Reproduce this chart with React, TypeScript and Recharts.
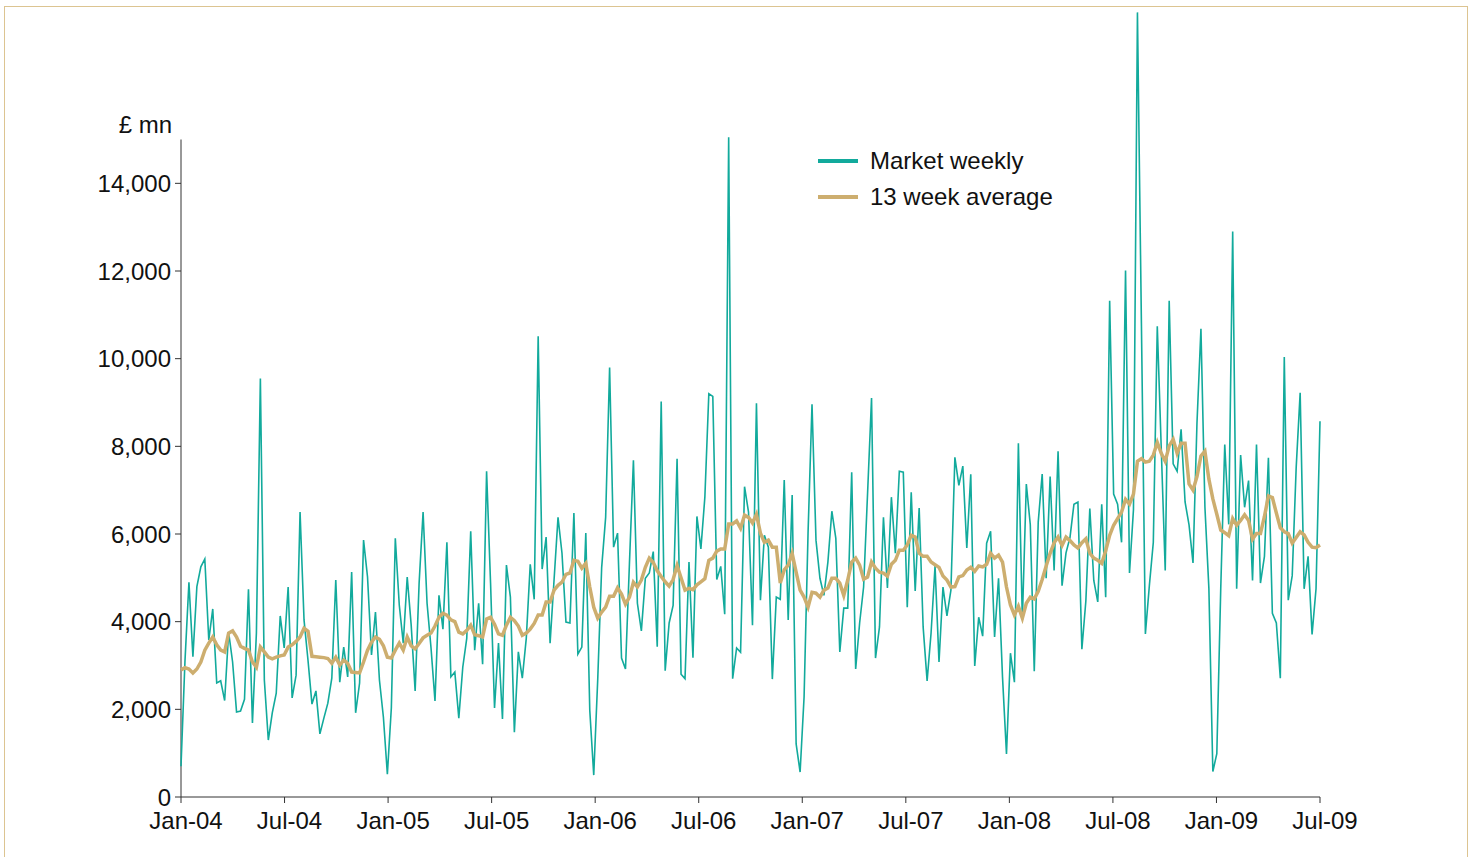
import { LineChart, Line, XAxis, YAxis, Legend, ReferenceLine } from "recharts";

// weekly market turnover, £ mn, Jan 2004 - Jul 2009
const weekly = [
  700, 3100, 4900, 3200, 4800, 5250, 5430, 3580, 4290, 2600, 2650, 2200, 3760, 3080, 1940, 1960, 2230, 4740, 1690, 3740, 9550, 2670, 1300, 1920, 2370,
  4130, 3400, 4790, 2260, 2780, 6500, 4040, 3120, 2120, 2420, 1440, 1800, 2140, 2710, 4950, 2620, 3420, 2740, 5130, 1920, 2600, 5860, 5020,
  3240, 4220, 2670, 1820, 520, 2030, 5900, 4380, 3510, 5020, 3920, 2420, 4880, 6500, 4420, 3400, 2190, 4600, 3830, 5810, 2740, 2850, 1800, 2960,
  3620, 6060, 3350, 4420, 3030, 7430, 4880, 2030, 3510, 1780, 5290, 4560, 1480, 3310, 2710, 3620, 5310, 4510, 10510, 5200, 5930, 3510, 4950, 6380,
  5560, 3990, 3970, 6480, 3260, 3420, 6020, 1980, 500, 2670, 5240, 6380, 9800, 5700, 6020, 3170, 2920, 5340, 7680, 4420, 3790, 4990, 5110,
  5600, 3430, 9020, 2880, 3970, 4370, 7715, 2800, 2700, 5360, 3180, 6400, 5660, 6840, 9200, 9140, 4960, 5260, 4170, 15050, 2700, 3400, 3300, 7080,
  6500, 3920, 8980, 4490, 5970, 5700, 2690, 4560, 4510, 7230, 4040, 6890, 1210, 570, 2280, 6020, 8960, 5860, 4990, 4600, 5360, 6520, 5900, 3310,
  4310, 4310, 7410, 2920, 3970, 4790, 6930, 9100, 3170, 3880, 6380, 4770, 6840, 5560, 7430, 7410, 4330, 6950, 4700, 6590, 3880, 2650, 3740, 5270,
  3080, 4790, 4130, 4720, 7750, 7110, 7550, 5680, 7360, 2990, 4100, 3670, 5790, 6060, 3650, 4990, 2740, 980, 3280, 2620, 8070, 4040, 7140,
  6210, 2870, 6270, 7370, 4990, 7310, 5170, 7890, 4820, 5570, 5920, 6680, 6730, 3370, 4470, 6580, 4940, 4450, 6680, 4560, 11320, 6910, 6680, 5810, 12010, 5110, 6560,
  17900, 10800, 3720, 4820, 5810, 10740, 7950, 5170, 11320, 7600, 7430, 8390, 6730, 6210, 5340, 8530, 10680, 6620, 4760, 580, 990,
  4790, 8040, 6220, 12900, 4750, 7800, 6610, 7220, 4940, 8040, 4880, 5490, 7740, 4190, 3970, 2710, 10040, 4490, 5050, 7520, 9220, 4750, 5490, 3710, 4750, 8570,
];

const average13 = [
  2900, 2950, 2920, 2830, 2920, 3080, 3350, 3510, 3650, 3470, 3350, 3310, 3740, 3790, 3650, 3440, 3390, 3350, 3080, 2960, 3420, 3310, 3190, 3150, 3190,
  3220, 3240, 3420, 3470, 3550, 3650, 3850, 3780, 3210, 3200, 3190, 3180, 3160, 3050, 3190, 3010, 3120, 3050, 2850, 2840, 2830, 3080, 3350,
  3530, 3650, 3600, 3450, 3190, 3170, 3350, 3510, 3350, 3650, 3450, 3380, 3500, 3630, 3690, 3740, 3900, 4100, 4190, 4150, 4040, 4000, 3760, 3720,
  3800, 3920, 3700, 3680, 3650, 4060, 4100, 3940, 3720, 3690, 3920, 4100, 4020, 3900, 3690, 3740, 3830, 3960, 4150, 4150, 4450, 4450, 4720, 4830,
  4900, 5080, 5110, 5400, 5380, 5220, 5330, 4790, 4330, 4080, 4220, 4330, 4580, 4580, 4770, 4630, 4400, 4560, 4900, 4790, 4950, 5240, 5450,
  5350, 5160, 5030, 4910, 4810, 4960, 5280, 5000, 4720, 4760, 4730, 4840, 4910, 4980, 5400, 5450, 5610, 5660, 5660, 6230, 6230, 6300, 6130, 6430,
  6380, 6250, 6450, 6020, 5810, 5860, 5700, 5700, 4880, 5180, 5290, 5560, 5130, 4720, 4560, 4330, 4670, 4650, 4560, 4720, 4770, 4990, 4990, 4880,
  4600, 4950, 5360, 5450, 5290, 4970, 5020, 5360, 5220, 5130, 5110, 5040, 5310, 5400, 5630, 5630, 5750, 5970, 5930, 5560, 5490, 5490, 5360, 5300,
  5240, 5040, 4950, 4790, 4800, 5020, 5050, 5180, 5240, 5150, 5270, 5250, 5310, 5560, 5450, 5520, 5360, 4790, 4380, 4150, 4350, 4080, 4420,
  4560, 4520, 4690, 4960, 5270, 5560, 5800, 5930, 5740, 5930, 5850, 5750, 5680, 5800, 5890, 5560, 5450, 5400, 5330, 5620, 5970, 6200, 6350, 6500, 6790, 6680, 6910,
  7660, 7720, 7640, 7660, 7800, 8090, 7840, 7660, 8010, 8160, 7840, 8070, 8070, 7140, 7000, 7310, 7780, 7890, 7250, 6800, 6450,
  6090, 6030, 5960, 6350, 6200, 6310, 6440, 6310, 5880, 6010, 6010, 6400, 6870, 6830, 6480, 6140, 6050, 6010, 5790, 5920, 6050, 5980, 5810, 5700, 5690, 5750,
];

const xTickLabels = ["Jan-04", "Jul-04", "Jan-05", "Jul-05", "Jan-06", "Jul-06", "Jan-07", "Jul-07", "Jan-08", "Jul-08", "Jan-09", "Jul-09"];
const yTicks = [0, 2000, 4000, 6000, 8000, 10000, 12000, 14000];
const legendOrder = ["weekly", "average"];

const TEAL = "#12aa9c";
const GOLD = "#cdae6f";
const FONT = "'Liberation Sans', Arial, sans-serif";

const data = weekly.map((v, i) => ({ week: i, weekly: v, average: average13[i] }));
const lastWeek = weekly.length - 1;
const tickStep = lastWeek / (xTickLabels.length - 1);
const xTicks = xTickLabels.map((_, i) => i * tickStep);

const tickStyle = { fill: "#111", fontSize: 24, fontFamily: FONT };

function LegendBox({ payload }: any) {
  const items = [...(payload || [])].sort(
    (a: any, b: any) => legendOrder.indexOf(a.dataKey) - legendOrder.indexOf(b.dataKey)
  );
  return (
    <div style={{ fontFamily: FONT, fontSize: 24, color: "#111" }}>
      {items.map((entry: any) => (
        <div key={entry.value} style={{ display: "flex", alignItems: "center", height: 36 }}>
          <span style={{ display: "inline-block", width: 40, height: 4, background: entry.color, marginRight: 12 }} />
          <span>{entry.value}</span>
        </div>
      ))}
    </div>
  );
}

export default function App() {
  return (
    <div style={{ position: "absolute", left: 0, top: 0, width: 1475, height: 857, background: "#fff", overflow: "hidden" }}>
      <div
        style={{
          position: "absolute",
          left: 4,
          top: 6,
          width: 1464,
          height: 870,
          border: "1px solid #dcc491",
          boxSizing: "border-box",
        }}
      />
      <div style={{ position: "absolute", left: 100, top: 111, width: 72, textAlign: "right", fontFamily: FONT, fontSize: 24, color: "#111" }}>
        £ mn
      </div>
      <LineChart width={1475} height={857} data={data} margin={{ top: 8, right: 155, bottom: 0, left: 0 }}>
        <XAxis
          type="number"
          dataKey="week"
          domain={[0, lastWeek]}
          ticks={xTicks}
          interval={0}
          tickFormatter={(v: number) => xTickLabels[Math.round(v / tickStep)]}
          tick={tickStyle}
          dx={5}
          height={60}
          tickSize={6}
          tickMargin={9}
          stroke="#333"
        />
        <YAxis
          domain={[0, 18000]}
          ticks={yTicks}
          interval={0}
          tickFormatter={(v: number) => v.toLocaleString("en-US")}
          tick={tickStyle}
          width={181}
          axisLine={false}
          tickSize={6}
          tickMargin={4}
          stroke="#333"
          allowDataOverflow
        />
        <ReferenceLine segment={[{ x: 0, y: 0 }, { x: 0, y: 15000 }]} stroke="#333" strokeWidth={1} />
        <Legend
          layout="vertical"
          verticalAlign="middle"
          align="center"
          wrapperStyle={{ left: 818, top: 143, width: 320 }}
          content={<LegendBox />}
        />
        <Line
          type="linear"
          dataKey="weekly"
          name="Market weekly"
          stroke={TEAL}
          strokeWidth={1.6}
          dot={false}
          isAnimationActive={false}
        />
        <Line
          type="linear"
          dataKey="average"
          name="13 week average"
          stroke={GOLD}
          strokeWidth={3.5}
          dot={false}
          isAnimationActive={false}
        />
      </LineChart>
    </div>
  );
}
